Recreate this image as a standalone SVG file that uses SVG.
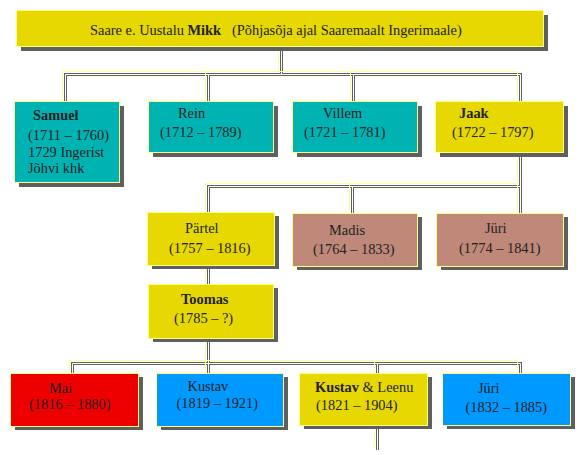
<svg xmlns="http://www.w3.org/2000/svg" xmlns:xlink="http://www.w3.org/1999/xlink" width="587" height="455" viewBox="0 0 587 455">
<style>
text{font-family:"Liberation Serif","Times New Roman",serif;font-size:14.4px;fill:#222}
.b{font-weight:bold}
.sh{fill:#5f5f5f}
.box{stroke:#ffff80;stroke-width:1}
.y{fill:#e6d800}.t{fill:#00b3b3}.br{fill:#bf8878}.r{fill:#ee0000}.bl{fill:#0099ff}
.cg{fill:none;stroke:#606060;stroke-width:3}
.cw{fill:none;stroke:#fff;stroke-width:1}
.cy{fill:none;stroke:#ffff99;stroke-width:1}
</style>
<defs>
<path id="wires" d="M278.5,46V71.5M62.5,101V71.5H517.5V101M205.5,71.5V101M350.5,71.5V101M517.5,153V183.5M205.5,212V183.5H517.5V213M349.5,183.5V213M205.5,265V284M205.5,338V373M69.5,373V360.5H517.5V373M374.5,360.5V373M374.5,425V447"/>
</defs>
<rect width="587" height="455" fill="#fff"/>
<g id="connectors">
<use xlink:href="#wires" class="cg" transform="translate(3,3)"/>
<use xlink:href="#wires" class="cw" transform="translate(3,3)"/>
<use xlink:href="#wires" class="cy"/>
</g>
<g id="mikk">
<rect class="sh" x="21" y="15" width="527" height="36"/>
<rect class="box y" x="16.5" y="10.5" width="527" height="36"/>
<text x="90" y="35">Saare e. Uustalu <tspan class="b">Mikk</tspan><tspan x="232">(Põhjasõja ajal Saaremaalt Ingerimaale)</tspan></text>
</g>
<g id="samuel">
<rect class="sh" x="19" y="106" width="105" height="81"/>
<rect class="box t" x="14.5" y="101.5" width="105" height="81"/>
<text class="b" x="33" y="120">Samuel</text>
<text x="28" y="140">(1711 – 1760)</text>
<text x="28" y="157">1729 Ingerist</text>
<text x="28" y="173">Jõhvi khk</text>
</g>
<g id="rein">
<rect class="sh" x="153" y="106" width="125" height="51"/>
<rect class="box t" x="148.5" y="101.5" width="125" height="51"/>
<text x="178" y="118">Rein</text>
<text x="160" y="136.5">(1712 – 1789)</text>
</g>
<g id="villem">
<rect class="sh" x="297" y="106" width="125" height="51"/>
<rect class="box t" x="292.5" y="101.5" width="125" height="51"/>
<text x="323" y="118">Villem</text>
<text x="304" y="136.5">(1721 – 1781)</text>
</g>
<g id="jaak">
<rect class="sh" x="440" y="106" width="128" height="51"/>
<rect class="box y" x="435.5" y="101.5" width="128" height="51"/>
<text class="b" x="459" y="118">Jaak</text>
<text x="452" y="136.5">(1722 – 1797)</text>
</g>
<g id="partel">
<rect class="sh" x="152" y="216" width="127" height="53"/>
<rect class="box y" x="147.5" y="212.5" width="127" height="53"/>
<text x="185" y="233">Pärtel</text>
<text x="169" y="252.5">(1757 – 1816)</text>
</g>
<g id="madis">
<rect class="sh" x="297" y="217" width="125" height="53"/>
<rect class="box br" x="292.5" y="213.5" width="125" height="53"/>
<text x="329" y="235">Madis</text>
<text x="313" y="254">(1764 – 1833)</text>
</g>
<g id="juri1">
<rect class="sh" x="441" y="217" width="127" height="53"/>
<rect class="box br" x="436.5" y="213.5" width="127" height="53"/>
<text x="485" y="233">Jüri</text>
<text x="459" y="252.5">(1774 – 1841)</text>
</g>
<g id="toomas">
<rect class="sh" x="153" y="288" width="125" height="54"/>
<rect class="box y" x="148.5" y="284.5" width="125" height="54"/>
<text class="b" x="181" y="304">Toomas</text>
<text x="174" y="323">(1785 – ?)</text>
</g>
<g id="mai">
<rect class="sh" x="15" y="377" width="128" height="53"/>
<rect class="box r" x="10.5" y="373.5" width="128" height="53"/>
<text x="49" y="392.5">Mai</text>
<text x="29" y="409">(1816 – 1880)</text>
</g>
<g id="kustav1">
<rect class="sh" x="161" y="377" width="127" height="53"/>
<rect class="box bl" x="156.5" y="373.5" width="127" height="53"/>
<text x="187.5" y="391">Kustav</text>
<text x="176.5" y="408">(1819 – 1921)</text>
</g>
<g id="kustav2">
<rect class="sh" x="304" y="377" width="128" height="52"/>
<rect class="box y" x="299.5" y="373.5" width="128" height="52"/>
<text x="315" y="391.5"><tspan class="b">Kustav</tspan> &amp; Leenu</text>
<text x="316" y="410">(1821 – 1904)</text>
</g>
<g id="juri2">
<rect class="sh" x="447" y="377" width="128" height="52"/>
<rect class="box bl" x="442.5" y="373.5" width="128" height="52"/>
<text x="478" y="393">Jüri</text>
<text x="465.5" y="411.5">(1832 – 1885)</text>
</g>
</svg>
